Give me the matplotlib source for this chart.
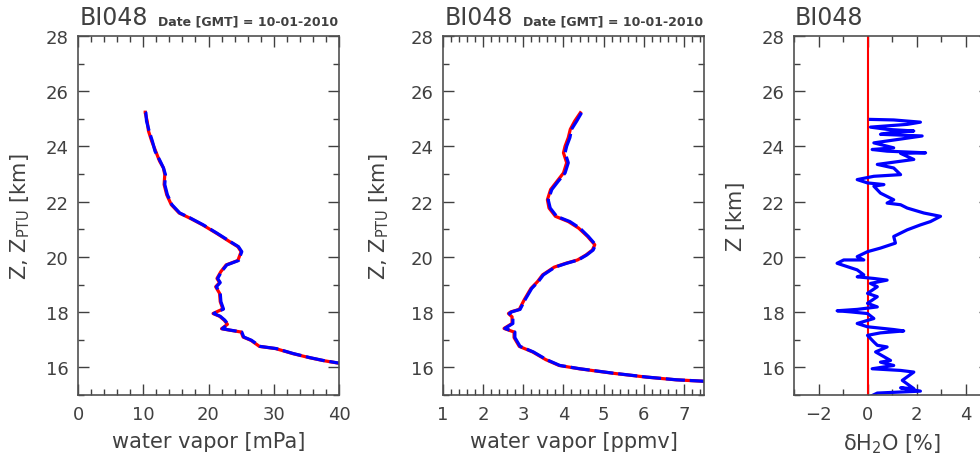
import matplotlib
matplotlib.use("Agg")
import matplotlib.pyplot as plt
from matplotlib.ticker import MultipleLocator

# altitude grid [km] and profiles
z_mpa = [25.24, 25.22, 24.92, 24.56, 24.19, 23.83, 23.47, 23.22, 22.98, 22.62, 22.25,
         21.89, 21.59, 21.41, 21.16, 20.86, 20.56, 20.37, 20.19, 19.87, 19.71, 19.47,
         19.22, 19.07, 18.92, 18.68, 18.38, 18.11, 18.05, 17.95, 17.85, 17.71, 17.56,
         17.40, 17.35, 17.28, 17.10, 16.98, 16.76, 16.68, 16.50, 16.35, 16.25, 16.17, 16.10]
mpa_blue = [10.3, 10.4, 10.5, 10.9, 11.4, 11.8, 12.6, 13.1, 13.4, 13.3, 13.7,
            14.4, 15.6, 17.2, 19.2, 21.3, 23.3, 24.6, 25.1, 24.6, 22.8, 22.0,
            21.4, 21.8, 21.2, 21.8, 21.9, 22.3, 21.7, 20.8, 21.8, 22.5, 23.0,
            22.1, 23.3, 25.1, 25.4, 26.6, 27.9, 30.4, 33.0, 35.6, 37.6, 39.6, 41.5]
mpa_red = [10.3, 10.3, 10.6, 10.8, 11.3, 11.9, 12.5, 13.1, 13.3, 13.2, 13.6,
           14.3, 15.5, 17.1, 19.1, 21.2, 23.2, 24.5, 25.0, 24.5, 22.7, 21.9,
           21.3, 21.7, 21.1, 21.7, 21.8, 22.2, 21.6, 20.7, 21.7, 22.4, 22.9,
           22.0, 23.2, 25.0, 25.3, 26.5, 27.8, 30.3, 32.9, 35.5, 37.5, 39.5, 41.4]

z_ppm = [25.22, 24.92, 24.62, 24.32, 24.01, 23.77, 23.41, 23.04, 22.74, 22.44, 22.07,
         21.77, 21.47, 21.28, 21.04, 20.74, 20.44, 20.25, 20.07, 19.89, 19.77, 19.63,
         19.35, 19.10, 18.86, 18.44, 18.10, 18.01, 17.95, 17.83, 17.59, 17.41, 17.28,
         17.08, 16.76, 16.56, 16.28, 16.07, 15.95, 15.79, 15.65, 15.55, 15.50, 15.45]
ppm_blue = [4.45, 4.33, 4.20, 4.16, 4.08, 4.04, 4.12, 4.04, 3.87, 3.71, 3.62,
            3.67, 3.83, 4.16, 4.41, 4.62, 4.80, 4.74, 4.58, 4.37, 4.08, 3.79,
            3.50, 3.37, 3.21, 3.04, 2.92, 2.71, 2.65, 2.74, 2.74, 2.54, 2.79,
            2.79, 2.92, 3.25, 3.58, 3.91, 4.41, 5.24, 6.07, 6.82, 7.48, 8.00]
ppm_red = [4.42, 4.28, 4.17, 4.12, 4.04, 4.00, 4.08, 4.00, 3.84, 3.68, 3.60,
           3.64, 3.80, 4.12, 4.38, 4.60, 4.78, 4.72, 4.56, 4.35, 4.06, 3.77,
           3.48, 3.35, 3.19, 3.02, 2.90, 2.69, 2.63, 2.72, 2.72, 2.52, 2.77,
           2.77, 2.90, 3.23, 3.56, 3.89, 4.39, 5.22, 6.05, 6.80, 7.46, 7.98]

z_dev = [24.98, 24.96, 24.88, 24.80, 24.70, 24.62, 24.56, 24.50, 24.44, 24.38, 24.25,
         24.13, 23.95, 23.89, 23.83, 23.77, 23.75, 23.53, 23.35, 23.22, 22.98, 22.92,
         22.80, 22.68, 22.62, 22.56, 22.31, 22.07, 21.95, 21.89, 21.77, 21.59, 21.47,
         21.28, 21.16, 20.98, 20.74, 20.50, 20.32, 20.19, 20.01, 19.89, 19.89, 19.77,
         19.65, 19.53, 19.35, 19.28, 19.22, 19.16, 19.04, 18.92, 18.68, 18.56, 18.32,
         18.19, 18.10, 18.05, 18.01, 17.95, 17.77, 17.59, 17.47, 17.37, 17.32, 17.25,
         17.16, 16.92, 16.80, 16.74, 16.56, 16.25, 16.19, 16.07, 15.95, 15.89, 15.83,
         15.53, 15.23, 15.26, 15.14, 15.07, 14.98]
dev = [0.12, 1.07, 2.16, 1.62, 0.12, 0.80, 1.89, 0.94, 0.53, 2.23, 1.21,
       0.26, 1.07, 0.19, 0.80, 2.37, 1.35, 1.89, 0.40, 1.07, 1.35, 0.26,
       -0.42, 0.0, 0.67, 0.26, 0.53, 1.07, 0.80, 1.35, 1.62, 2.30, 2.98,
       2.57, 2.16, 1.62, 1.07, 1.14, 0.53, 0.0, -0.42, -0.15, -0.97, -1.24,
       -0.83, -0.42, -0.15, -0.42, 0.26, 0.80, 0.12, 0.40, 0.0, 0.40, 0.0,
       0.40, -0.42, -1.24, -0.69, 0.0, 0.26, -0.42, 0.0, 1.07, 1.48, 0.53,
       0.0, 0.26, 0.40, 0.80, 0.33, 0.94, 0.53, 1.07, 0.19, 1.35, 1.89,
       1.42, 1.89, 1.35, 2.16, 0.40, 0.19]

grey = '#404040'
plt.rcParams['font.family'] = ['DejaVu Sans']
plt.rcParams['text.color'] = grey
plt.rcParams['axes.labelcolor'] = grey
plt.rcParams['xtick.color'] = grey
plt.rcParams['ytick.color'] = grey
plt.rcParams['axes.edgecolor'] = '#505050'

fig = plt.figure(figsize=(9.8, 4.6), dpi=100)
W, H = 980.0, 460.0


def make_ax(left, width, xlim, xmaj, xmin):
    ax = fig.add_axes([left / W, (H - 396) / H, width / W, 359 / H])
    ax.set_xlim(*xlim)
    ax.set_ylim(15, 28)
    ax.xaxis.set_major_locator(MultipleLocator(xmaj))
    ax.xaxis.set_minor_locator(MultipleLocator(xmin))
    ax.yaxis.set_major_locator(MultipleLocator(2))
    ax.yaxis.set_minor_locator(MultipleLocator(1))
    ax.tick_params(which='both', direction='in', top=True, right=True, labelsize=13)
    ax.tick_params(which='major', length=8, width=1, pad=7)
    ax.tick_params(which='minor', length=4, width=1)
    for s in ax.spines.values():
        s.set_linewidth(1.2)
    return ax


ax1 = make_ax(78, 261, (0, 40), 10, 2)
ax1.plot(mpa_red, z_mpa, color='red', lw=2.3)
ax1.plot(mpa_blue, z_mpa, color='blue', lw=2.3, dashes=[6, 1.5])
ax1.set_xlabel('water vapor [mPa]', fontsize=15, labelpad=6)
ax1.set_ylabel(r'Z, Z$_{\rm PTU}$ [km]', fontsize=15)
ax1.yaxis.set_label_coords(-0.175, 0.5)

ax2 = make_ax(443, 261, (1, 7.5), 1, 0.2)
ax2.plot(ppm_red, z_ppm, color='red', lw=2.3)
ax2.plot(ppm_blue, z_ppm, color='blue', lw=2.3, dashes=[6, 1.5])
ax2.set_xlabel('water vapor [ppmv]', fontsize=15, labelpad=6)
ax2.set_ylabel(r'Z, Z$_{\rm PTU}$ [km]', fontsize=15)
ax2.yaxis.set_label_coords(-0.2, 0.5)

ax3 = make_ax(794, 196, (-3, 5), 2, 1)
ax3.axvline(0, color='red', lw=1.5)
ax3.plot(dev, z_dev, color='blue', lw=2.3)
ax3.set_xlabel('\u03b4H$_2$O [%]', fontsize=15, labelpad=6)
ax3.set_ylabel('Z [km]', fontsize=15)
ax3.yaxis.set_label_coords(-0.245, 0.5)

for x0, date_x in [(80, 158), (445, 523), (795, None)]:
    fig.text(x0 / W, (H - 25) / H, 'BI048', fontsize=17, ha='left', va='baseline')
    if date_x:
        fig.text(date_x / W, (H - 25) / H, 'Date [GMT] = 10-01-2010', fontsize=9,
                 fontweight='bold', ha='left', va='baseline')

fig.savefig('out.png', dpi=100)
